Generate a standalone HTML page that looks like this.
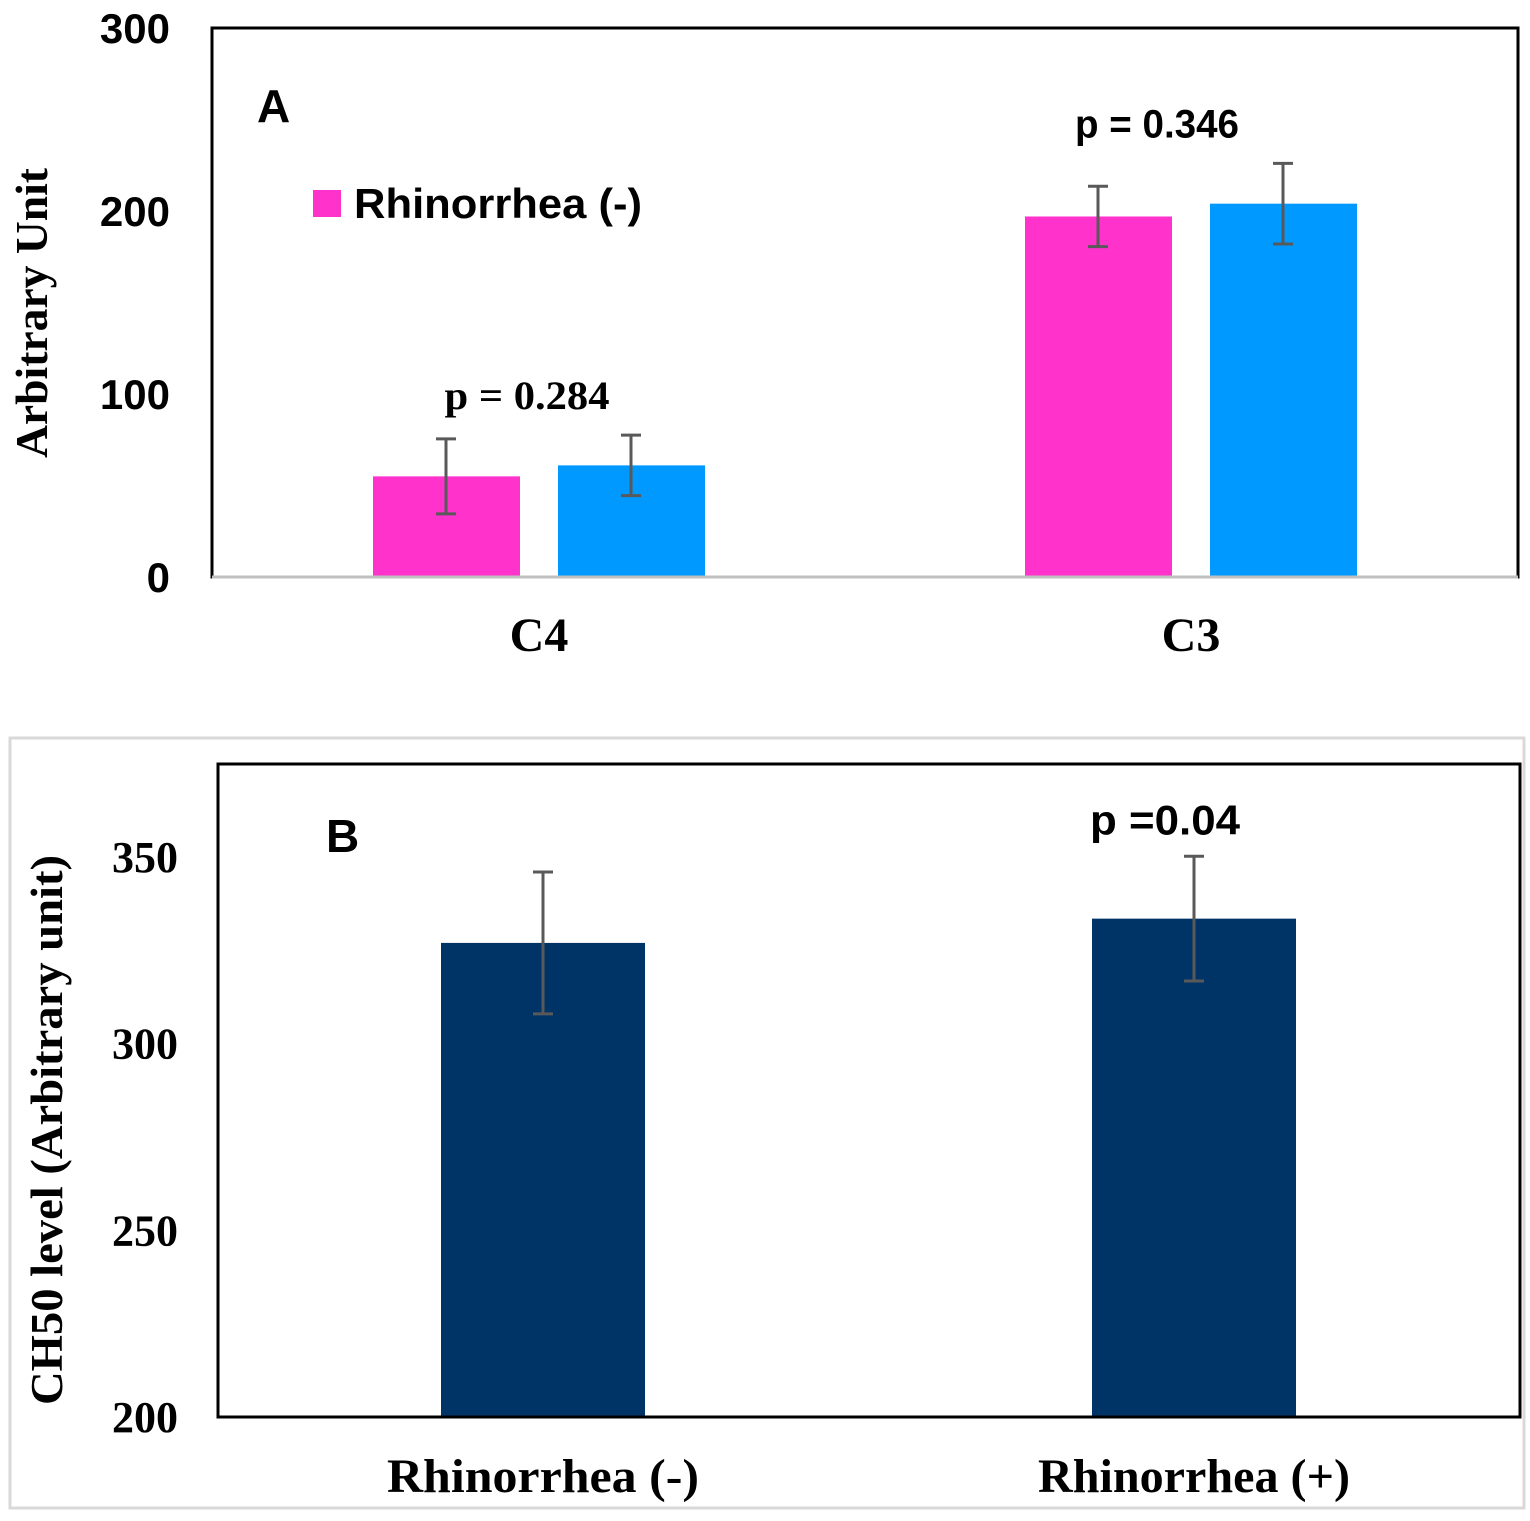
<!DOCTYPE html>
<html><head><meta charset="utf-8"><style>
html,body{margin:0;padding:0;background:#fff;}
svg{display:block;}
.s{font-family:"Liberation Sans",sans-serif;font-weight:bold;}
.r{font-family:"Liberation Serif",serif;font-weight:bold;}
</style></head><body>
<svg id="c" width="1530" height="1521" viewBox="0 0 1530 1521" xmlns="http://www.w3.org/2000/svg">
<rect x="10" y="738" width="1514" height="770" fill="none" stroke="#d9d9d9" stroke-width="3"/>
<rect x="212" y="28" width="1306" height="549" fill="none" stroke="#000" stroke-width="3"/>
<line x1="212" y1="577" x2="1518" y2="577" stroke="#bfbfbf" stroke-width="3"/>
<rect x="218" y="764" width="1302" height="653" fill="none" stroke="#000" stroke-width="3"/>
<text x="257" y="122" class="s" font-size="46">A</text>
<text x="326" y="852" class="s" font-size="46">B</text>
<rect x="313" y="190" width="28" height="27" fill="#ff33cc"/>
<text x="354" y="218" class="s" font-size="42" textLength="288" lengthAdjust="spacingAndGlyphs">Rhinorrhea (-)</text>
<text x="47" y="313" class="r" font-size="45" text-anchor="middle" transform="rotate(-90 47 313)" textLength="290" lengthAdjust="spacingAndGlyphs">Arbitrary Unit</text>
<text x="62" y="1130" class="r" font-size="45" text-anchor="middle" transform="rotate(-90 62 1130)" textLength="550" lengthAdjust="spacingAndGlyphs">CH50  level (Arbitrary unit)</text>
<g id="ga"></g><g id="gb"></g>
</svg>
<script>
// Panel A data
const catsA = ["C4", "C3"];
const negA = [55, 197];
const posA = [61, 204];
const negErrA = [20.5, 16.5];
const posErrA = [16.5, 22];
const pA = ["p = 0.284", "p = 0.346"];
const ticksA = [0, 100, 200, 300];
// Panel B data
const catsB = ["Rhinorrhea (-)", "Rhinorrhea (+)"];
const valsB = [327, 333.5];
const errB = [19, 16.7];
const pB = ["", "p =0.04"];
const ticksB = [200, 250, 300, 350];

const NS = "http://www.w3.org/2000/svg";
function mk(parent, tag, attrs, txt){
  const e = document.createElementNS(NS, tag);
  for (const k in attrs) e.setAttribute(k, attrs[k]);
  if (txt !== undefined) e.textContent = txt;
  parent.appendChild(e);
  return e;
}
const yA = v => 577 - v * 1.83;
const yB = v => 1417 - (v - 200) * 3.733;
const ga = document.getElementById('ga');
const gb = document.getElementById('gb');

ticksA.forEach(t => {
  const e = mk(ga, 'text', {x: 170, y: yA(t) + 15, 'text-anchor': 'end', class: 's', 'font-size': 42}, t);
  
  
});
function errBar(g, cx, y1, y2, name){
  const p = mk(g, 'path', {d: `M${cx},${y1}V${y2}M${cx-10},${y1}H${cx+10}M${cx-10},${y2}H${cx+10}`, stroke: '#595959', 'stroke-width': 3, fill: 'none'});
  
  
}
const groupCA = [539, 1191];
const pLen = [165, 164];
catsA.forEach((c, i) => {
  const gc = groupCA[i];
  const xs = [gc - 166, gc + 19];
  const vals = [negA[i], posA[i]], errs = [negErrA[i], posErrA[i]];
  const cols = ['#ff33cc', '#0099ff'];
  [0, 1].forEach(j => {
    const r = mk(ga, 'rect', {x: xs[j], y: yA(vals[j]), width: 147, height: yA(0) - yA(vals[j]) - 1.5, fill: cols[j]});
    
    
    errBar(ga, xs[j] + 73, yA(vals[j] + errs[j]), yA(vals[j] - errs[j]), 'error-bar');
  });
  const top = Math.max(negA[i] + negErrA[i], posA[i] + posErrA[i]);
  const pt = mk(ga, 'text', {x: gc - 12 - (i ? 22 : 0), y: yA(top) - 26, 'text-anchor': 'middle', class: i ? 's' : 'r', 'font-size': 40, textLength: pLen[i], lengthAdjust: 'spacingAndGlyphs'}, pA[i]);
  
  
  const xl = mk(ga, 'text', {x: gc, y: 651, 'text-anchor': 'middle', class: 'r', 'font-size': 48}, c);
  
  
});

ticksB.forEach(t => {
  const e = mk(gb, 'text', {x: 178, y: yB(t) + 15, 'text-anchor': 'end', class: 'r', 'font-size': 44}, t);
  
  
});
const groupCB = [543, 1194];
catsB.forEach((c, i) => {
  const gc = groupCB[i];
  const r = mk(gb, 'rect', {x: gc - 102, y: yB(valsB[i]), width: 204, height: yB(200) - yB(valsB[i]) - 1.5, fill: '#003366'});
  
  
  errBar(gb, gc, yB(valsB[i] + errB[i]), yB(valsB[i] - errB[i]), 'error-bar');
  if (pB[i]) {
    const pt = mk(gb, 'text', {x: gc - 29, y: yB(valsB[i] + errB[i]) - 22, 'text-anchor': 'middle', class: 's', 'font-size': 42, textLength: 150, lengthAdjust: 'spacingAndGlyphs'}, pB[i]);
    
    
  }
  const xl = mk(gb, 'text', {x: gc, y: 1492, 'text-anchor': 'middle', class: 'r', 'font-size': 48, textLength: 312, lengthAdjust: 'spacingAndGlyphs'}, c);
  
  
});
</script>
</body></html>
